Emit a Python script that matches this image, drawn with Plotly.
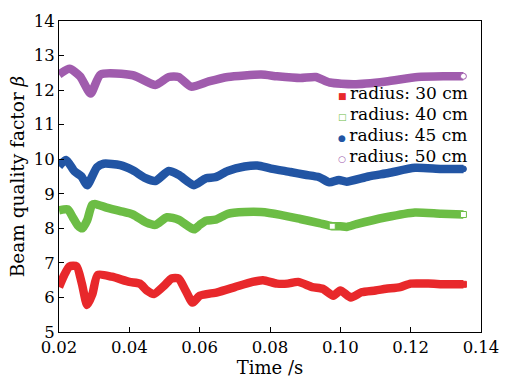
import plotly.graph_objects as go

# Beam quality factor vs time for four radii
t_30 = [0.020, 0.0215, 0.023, 0.025, 0.0265, 0.028, 0.0295, 0.031, 0.035, 0.040, 0.043, 0.045,
        0.047, 0.050, 0.052, 0.054, 0.056, 0.058, 0.060, 0.065, 0.070, 0.075, 0.078, 0.082,
        0.085, 0.088, 0.092, 0.095, 0.098, 0.100, 0.103, 0.106, 0.110, 0.113, 0.117, 0.120,
        0.125, 0.130, 0.135]
b_30 = [6.30, 6.65, 6.90, 6.90, 6.40, 5.78, 6.10, 6.65, 6.60, 6.45, 6.40, 6.20,
        6.10, 6.35, 6.55, 6.55, 6.20, 5.85, 6.05, 6.15, 6.30, 6.45, 6.50, 6.40,
        6.40, 6.45, 6.30, 6.25, 6.05, 6.20, 6.00, 6.15, 6.20, 6.25, 6.30, 6.40,
        6.40, 6.38, 6.38]

t_40 = [0.020, 0.0225, 0.0239, 0.0253, 0.0266, 0.028, 0.0294, 0.0305, 0.0335, 0.0374, 0.041,
        0.0446, 0.0474, 0.0507, 0.054, 0.0584, 0.060, 0.0618, 0.0645, 0.068, 0.0728, 0.0775,
        0.083, 0.0886, 0.094, 0.0977, 0.1000, 0.1018, 0.1046, 0.113, 0.1212, 0.1287, 0.135]
b_40 = [8.52, 8.55, 8.32, 8.09, 8.00, 8.23, 8.68, 8.70, 8.60, 8.50, 8.40,
        8.18, 8.10, 8.32, 8.25, 7.97, 8.10, 8.22, 8.25, 8.42, 8.47, 8.47,
        8.39, 8.27, 8.15, 8.06, 8.06, 8.04, 8.12, 8.32, 8.46, 8.42, 8.40]

t_45 = [0.020, 0.022, 0.0244, 0.0264, 0.028, 0.0308, 0.0327, 0.0374, 0.041, 0.0446, 0.0474,
        0.0512, 0.054, 0.0584, 0.0618, 0.0645, 0.068, 0.0728, 0.0764, 0.0803, 0.0858, 0.090,
        0.094, 0.0969, 0.0996, 0.1018, 0.108, 0.1137, 0.1212, 0.1287, 0.135]
b_45 = [9.80, 9.98, 9.65, 9.50, 9.25, 9.77, 9.87, 9.83, 9.68, 9.45, 9.37,
        9.66, 9.55, 9.25, 9.45, 9.48, 9.66, 9.79, 9.82, 9.73, 9.63, 9.55,
        9.48, 9.33, 9.40, 9.35, 9.50, 9.60, 9.75, 9.72, 9.72]

t_50 = [0.020, 0.023, 0.026, 0.029, 0.0318, 0.041, 0.0474, 0.0512, 0.054, 0.0576, 0.0626,
        0.068, 0.0775, 0.082, 0.0886, 0.093, 0.097, 0.1038, 0.113, 0.122, 0.1295, 0.135]
b_50 = [12.45, 12.62, 12.40, 11.90, 12.45, 12.43, 12.15, 12.38, 12.38, 12.10, 12.25,
        12.38, 12.45, 12.40, 12.35, 12.38, 12.22, 12.17, 12.25, 12.38, 12.40, 12.40]

x_ticks = [0.02, 0.04, 0.06, 0.08, 0.10, 0.12, 0.14]
y_ticks = [5, 6, 7, 8, 9, 10, 11, 12, 13, 14]
labels = ["radius: 30 cm", "radius: 40 cm", "radius: 45 cm", "radius: 50 cm"]
colors = ["#E8282B", "#6CBD45", "#2255A4", "#A05CAD"]
symbols = ["square", "square-open", "circle", "circle-open"]
key_glyphs = ["■", "□", "●", "○"]

data = [(t_30, b_30), (t_40, b_40), (t_45, b_45), (t_50, b_50)]

fig = go.Figure()
for (t, b), name, color in zip(data, labels, colors):
    fig.add_trace(go.Scatter(
        x=t, y=b, mode="lines", name=name, showlegend=False,
        line=dict(color=color, width=8.5, shape="spline", smoothing=0.6),
    ))

# open/filled markers visible at the series ends (and the gap in the 40 cm trace)
marker_idx = [[-1], [25, -1], [-1], [-1]]
for (t, b), name, color, sym, idx in zip(data, labels, colors, symbols, marker_idx):
    fig.add_trace(go.Scatter(
        x=[t[i] for i in idx], y=[b[i] for i in idx], mode="markers",
        name=name, showlegend=False,
        marker=dict(color="white" if "open" in sym else color,
                    symbol=sym.replace("-open", ""), size=6,
                    line=dict(color=color, width=1)),
    ))

# key in the upper right of the plot area
font_family = "DejaVu Serif"
for k, (name, color, glyph) in enumerate(zip(labels, colors, key_glyphs)):
    fig.add_annotation(
        xref="paper", yref="paper", x=0.657, y=0.767 - k * 0.067,
        xanchor="left", yanchor="middle", showarrow=False,
        text=f"<span style='color:{color};font-size:9px'>{glyph}</span>\u2009{name}",
        font=dict(family=font_family, size=17, color="black"),
    )

fig.update_layout(
    width=511, height=383,
    margin=dict(l=59, r=18, t=18, b=45),
    paper_bgcolor="white", plot_bgcolor="white",
    font=dict(family=font_family, size=16.5, color="black"),
    showlegend=False,
    xaxis=dict(range=[0.02, 0.14], tickvals=x_ticks,
               ticktext=[f"{v:.2f}" for v in x_ticks],
               ticklabeloverflow="allow",
               ticks="inside", ticklen=5, tickcolor="black",
               showline=True, linecolor="black", linewidth=1, mirror=True,
               showgrid=False, zeroline=False,
               title=dict(text="Time /s", standoff=2, font=dict(size=18))),
    yaxis=dict(range=[5, 14], tickvals=y_ticks,
               ticklabeloverflow="allow",
               ticks="inside", ticklen=5, tickcolor="black",
               showline=True, linecolor="black", linewidth=1, mirror=True,
               showgrid=False, zeroline=False,
               title=dict(text="Beam quality factor <i>β</i>", standoff=4,
                          font=dict(size=18.5))),
)

fig.write_html("out.html")
